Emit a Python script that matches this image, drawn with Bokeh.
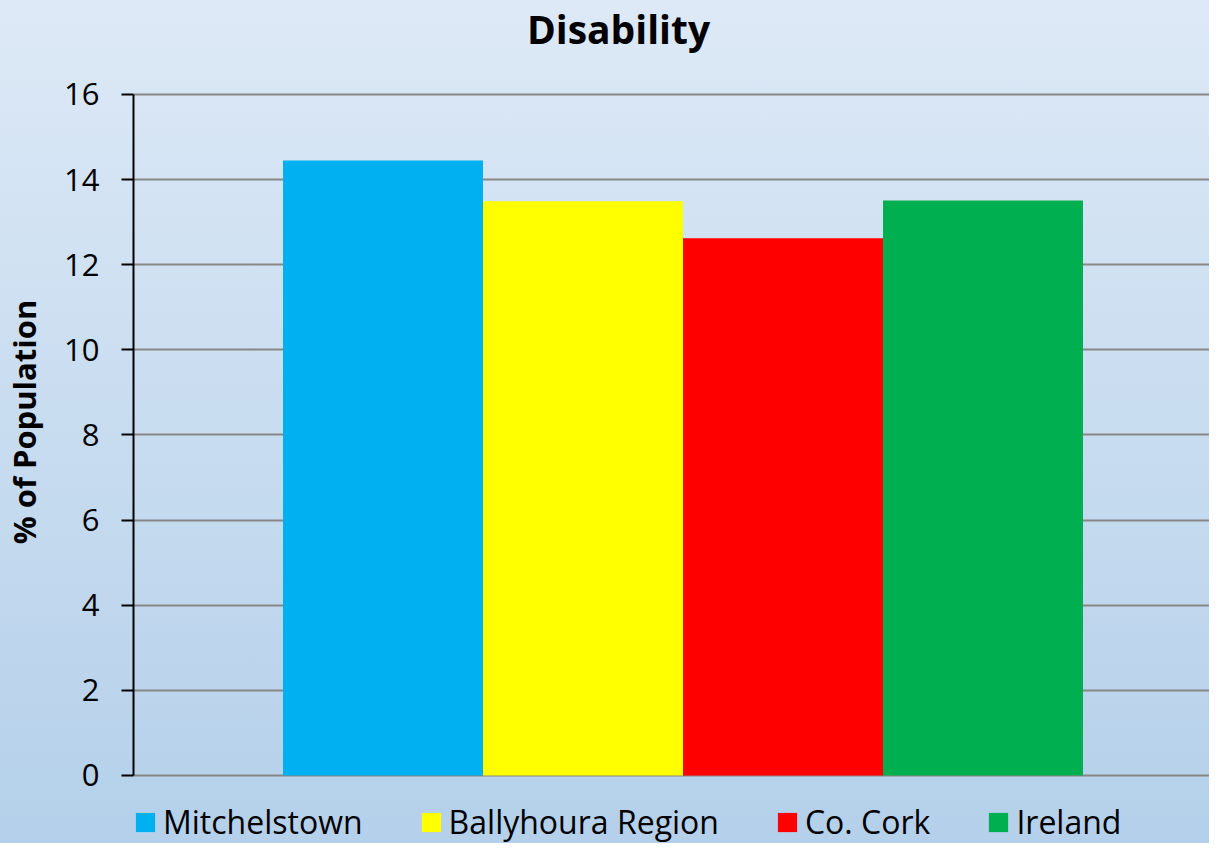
from bokeh.plotting import figure
from bokeh.models import Range1d, Legend, LegendItem, Label
from bokeh.embed import file_html
from bokeh.resources import INLINE

title_text = "Disability"
y_label = "% of Population"
categories = ["Mitchelstown", "Ballyhoura Region", "Co. Cork", "Ireland"]
values = [14.45, 13.49, 12.62, 13.51]
colors = ["#00B0F0", "#FFFF00", "#FF0000", "#00B050"]
y_ticks = [0, 2, 4, 6, 8, 10, 12, 14, 16]

FONT = "Open Sans"
W, H = 1209, 843

p = figure(width=W, height=H, output_backend="svg", toolbar_location=None,
           x_range=Range1d(-1.2475, 4.1325), y_range=Range1d(-1.5977, 18.2085),
           min_border_left=133, min_border_right=0, min_border_top=0, min_border_bottom=0)
p.title = None
p.background_fill_color = None
p.border_fill_color = None
p.outline_line_color = None
p.styles = {"background": "linear-gradient(to bottom, #dde9f6 0%, #b4d0ea 100%)"}

items = []
for i, (c, v, col) in enumerate(zip(categories, values, colors)):
    r = p.vbar(x=[i], top=[v], bottom=0, width=1.0, fill_color=col, line_color=None)
    items.append(LegendItem(label=c, renderers=[r]))

p.xaxis.visible = False
p.xgrid.visible = False
p.ygrid.ticker = y_ticks
p.ygrid.grid_line_color = "#878787"
p.ygrid.grid_line_width = 2

ya = p.yaxis[0]
ya.ticker = y_ticks
ya.bounds = (min(y_ticks), max(y_ticks))
ya.axis_line_color = "black"
ya.axis_line_width = 2
ya.major_tick_line_color = "black"
ya.major_tick_line_width = 2
ya.major_tick_out = 12
ya.major_tick_in = 0
ya.minor_tick_line_color = None
ya.major_label_standoff = 22
ya.major_label_text_font = FONT
ya.major_label_text_font_size = "31px"
ya.major_label_text_color = "black"
ya.axis_label = y_label
ya.axis_label_text_font = FONT
ya.axis_label_text_font_style = "bold"
ya.axis_label_text_font_size = "31px"
ya.axis_label_text_color = "black"
ya.axis_label_standoff = 16

title = Label(x=485, y=H - 28, x_units="screen", y_units="screen", text=title_text,
              text_align="center", text_baseline="middle", text_font=FONT,
              text_font_style="bold", text_font_size="39px", text_color="black")
p.add_layout(title)

legend = Legend(items=items, orientation="horizontal", location=(0, 0),
                glyph_width=24, glyph_height=24, label_standoff=6, spacing=56,
                padding=0, margin=0, border_line_color=None, background_fill_alpha=0,
                label_text_font=FONT, label_text_font_size="32px", label_text_color="black")
p.add_layout(legend, "center")

open("out.html", "w").write(file_html(p, INLINE))
